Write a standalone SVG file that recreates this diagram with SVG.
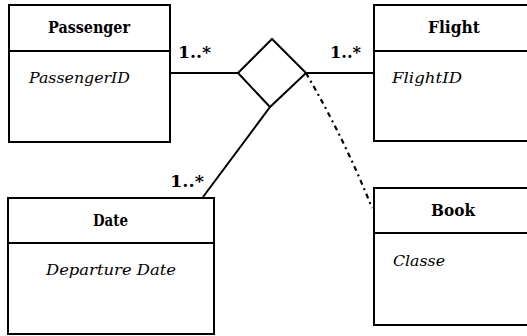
<svg xmlns="http://www.w3.org/2000/svg" width="527" height="336" viewBox="0 0 527 336">
  <style>
    .box { fill: #ffffff; stroke: #000000; stroke-width: 2; }
    .div { stroke: #000000; stroke-width: 2; }
    .title { font-family: 'DejaVu Serif', 'Liberation Serif', serif; font-weight: bold; font-size: 16px; fill: #000; }
    .attr { font-family: 'DejaVu Serif', 'Liberation Serif', serif; font-style: italic; font-size: 15px; fill: #000; }
    .mult { font-family: 'DejaVu Serif', 'Liberation Serif', serif; font-weight: bold; font-size: 16px; fill: #000; }
    .link { fill: none; stroke: #000000; stroke-width: 2; }
    .dashdot { fill: none; stroke: #000000; stroke-width: 2.2; stroke-dasharray: 5 4 2 4; }
  </style>
  <rect width="527" height="336" fill="#ffffff"/>

  <g id="connectors">
    <line class="link" x1="170" y1="73" x2="238" y2="73"/>
    <line class="link" x1="306" y1="73" x2="374" y2="73"/>
    <line class="link" x1="270" y1="107" x2="203" y2="197"/>
    <path class="dashdot" d="M306 73 Q345 140 372 208"/>
    <polygon class="link" points="238,73 272,39 306,73 270,107"/>
    <text class="mult" x="178" y="58" textLength="33" lengthAdjust="spacingAndGlyphs">1..*</text>
    <text class="mult" x="330" y="58" textLength="31" lengthAdjust="spacingAndGlyphs">1..*</text>
    <text class="mult" x="170" y="187" textLength="34" lengthAdjust="spacingAndGlyphs">1..*</text>
  </g>

  <g id="passenger">
    <rect class="box" x="9" y="5" width="161" height="137"/>
    <line class="div" x1="9" y1="51" x2="170" y2="51"/>
    <text class="title" x="89" y="33" text-anchor="middle" textLength="82" lengthAdjust="spacingAndGlyphs">Passenger</text>
    <text class="attr" x="29" y="83" textLength="101" lengthAdjust="spacingAndGlyphs">PassengerID</text>
  </g>

  <g id="flight">
    <rect class="box" x="374" y="5" width="160" height="136"/>
    <line class="div" x1="374" y1="51" x2="534" y2="51"/>
    <text class="title" x="454" y="33" text-anchor="middle" textLength="52" lengthAdjust="spacingAndGlyphs">Flight</text>
    <text class="attr" x="392" y="83" textLength="70" lengthAdjust="spacingAndGlyphs">FlightID</text>
  </g>

  <g id="date">
    <rect class="box" x="8" y="198" width="206" height="136"/>
    <line class="div" x1="8" y1="243" x2="214" y2="243"/>
    <text class="title" x="110.5" y="226" text-anchor="middle" textLength="35" lengthAdjust="spacingAndGlyphs">Date</text>
    <text class="attr" x="46" y="275" textLength="130" lengthAdjust="spacingAndGlyphs">Departure Date</text>
  </g>

  <g id="book">
    <rect class="box" x="374" y="188" width="160" height="137"/>
    <line class="div" x1="374" y1="233" x2="534" y2="233"/>
    <text class="title" x="453" y="216" text-anchor="middle" textLength="44" lengthAdjust="spacingAndGlyphs">Book</text>
    <text class="attr" x="393" y="266" textLength="52" lengthAdjust="spacingAndGlyphs">Classe</text>
  </g>
</svg>
